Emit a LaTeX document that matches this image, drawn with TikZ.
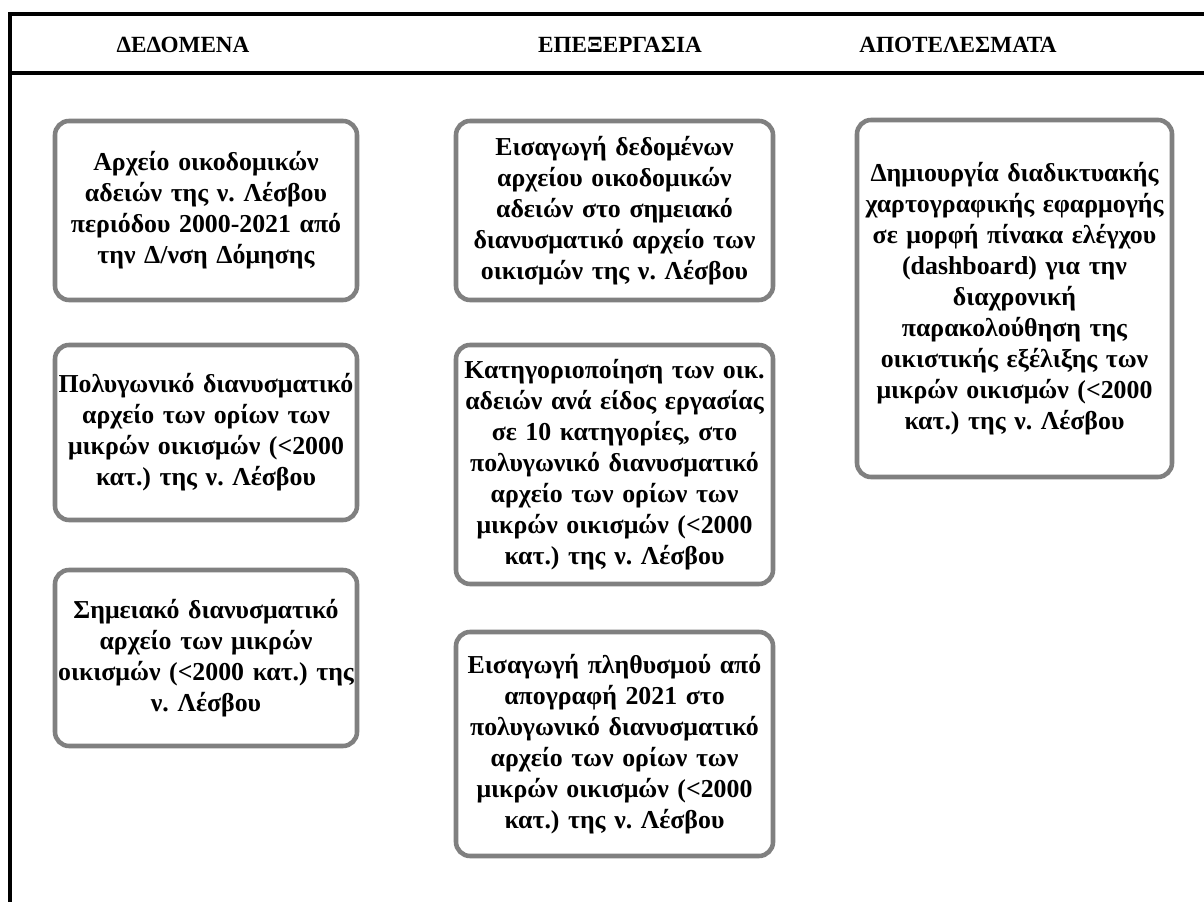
\documentclass[tikz,border=0pt]{standalone}
\usepackage{fontspec}
\setmainfont{Liberation Serif}
\definecolor{boxgray}{RGB}{128,128,128}
\begin{document}
\frenchspacing
\begin{tikzpicture}[
  header/.style={font=\bfseries\fontsize{13.2}{16}\selectfont},
  stage/.style={draw=boxgray, line width=2.6pt, rounded corners=8pt, align=center,
    inner xsep=-0.2cm, inner ysep=2pt, font=\bfseries\fontsize{14.7}{17.6}\selectfont}]
\useasboundingbox (0,0) rectangle (24.08,18.04);
% frame of the table
\draw[line width=1.8pt] (0.16,17.76) -- (24.08,17.76);
\draw[line width=1.8pt] (0.16,16.58) -- (24.08,16.58);
\draw[line width=1.8pt] (0.2,17.76) -- (0.2,0);
% column titles
\node[header] (hdata) at (3.66,17.14) {ΔΕΔΟΜΕΝΑ};
\node[header] (hproc) at (12.4,17.14) {ΕΠΕΞΕΡΓΑΣΙΑ};
\node[header] (hres) at (19.16,17.14) {ΑΠΟΤΕΛΕΣΜΑΤΑ};
% data
\node[stage, text width=6.44cm, minimum height=3.58cm] (data1) at (4.12,13.83)
  {Αρχείο οικοδομικών\\αδειών της ν. Λέσβου\\περιόδου 2000-2021 από\\την Δ/νση Δόμησης};
\node[stage, text width=6.44cm, minimum height=3.5cm] (data2) at (4.12,9.39)
  {Πολυγωνικό διανυσματικό\\αρχείο των ορίων των\\μικρών οικισμών (<2000\\κατ.) της ν. Λέσβου};
\node[stage, text width=6.44cm, minimum height=3.52cm] (data3) at (4.12,4.88)
  {Σημειακό διανυσματικό\\αρχείο των μικρών\\οικισμών (<2000 κατ.) της\\ν. Λέσβου};
% processing
\node[stage, text width=6.74cm, minimum height=3.58cm] (proc1) at (12.29,13.83)
  {Εισαγωγή δεδομένων\\αρχείου οικοδομικών\\αδειών στο σημειακό\\διανυσματικό αρχείο των\\οικισμών της ν. Λέσβου};
\node[stage, text width=6.74cm, minimum height=4.78cm] (proc2) at (12.29,8.75)
  {Κατηγοριοποίηση των οικ.\\αδειών ανά είδος εργασίας\\σε 10 κατηγορίες, στο\\πολυγωνικό διανυσματικό\\αρχείο των ορίων των\\μικρών οικισμών (<2000\\κατ.) της ν. Λέσβου};
\node[stage, text width=6.74cm, minimum height=4.48cm] (proc3) at (12.29,3.16)
  {Εισαγωγή πληθυσμού από\\απογραφή 2021 στο\\πολυγωνικό διανυσματικό\\αρχείο των ορίων των\\μικρών οικισμών (<2000\\κατ.) της ν. Λέσβου};
% results
\node[stage, text width=6.7cm, minimum height=7.14cm] (res1) at (20.29,12.07)
  {Δημιουργία διαδικτυακής\\χαρτογραφικής εφαρμογής\\σε μορφή πίνακα ελέγχου\\(dashboard) για την\\διαχρονική\\παρακολούθηση της\\οικιστικής εξέλιξης των\\μικρών οικισμών (<2000\\κατ.) της ν. Λέσβου};
\end{tikzpicture}
\end{document}
